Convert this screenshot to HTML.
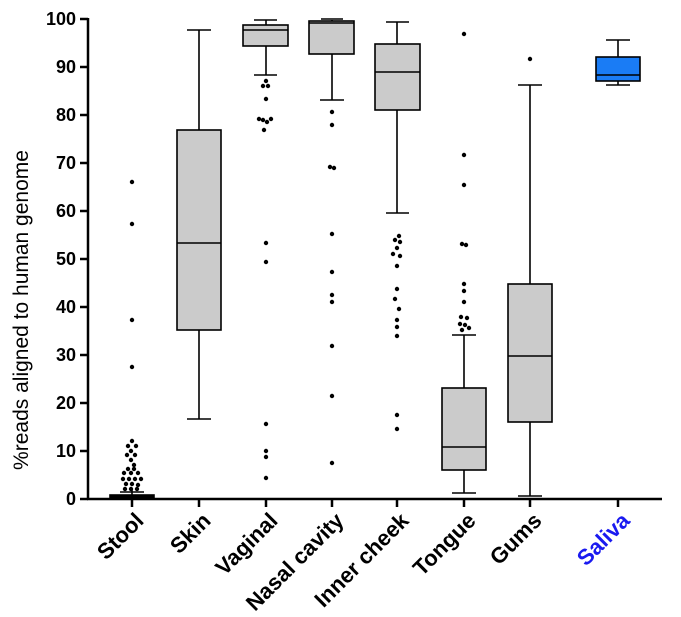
<!DOCTYPE html><html><head><style>body{margin:0;background:#fff}svg{display:block}</style></head><body>
<svg width="681" height="617" xmlns="http://www.w3.org/2000/svg" font-family="Liberation Sans, sans-serif">
<g stroke="#000" stroke-width="2.5" fill="none">
<line x1="88" y1="18" x2="88" y2="500"/><line x1="87" y1="499" x2="662" y2="499"/>
</g>
<g stroke="#000" stroke-width="2.5">
<line x1="80" y1="19" x2="88" y2="19"/><line x1="80" y1="67" x2="88" y2="67"/><line x1="80" y1="115" x2="88" y2="115"/><line x1="80" y1="163" x2="88" y2="163"/><line x1="80" y1="211" x2="88" y2="211"/><line x1="80" y1="259" x2="88" y2="259"/><line x1="80" y1="307" x2="88" y2="307"/><line x1="80" y1="355" x2="88" y2="355"/><line x1="80" y1="403" x2="88" y2="403"/><line x1="80" y1="451" x2="88" y2="451"/><line x1="80" y1="499" x2="88" y2="499"/>
<line x1="132" y1="499" x2="132" y2="507"/><line x1="199" y1="499" x2="199" y2="507"/><line x1="266" y1="499" x2="266" y2="507"/><line x1="332" y1="499" x2="332" y2="507"/><line x1="397" y1="499" x2="397" y2="507"/><line x1="464" y1="499" x2="464" y2="507"/><line x1="530" y1="499" x2="530" y2="507"/><line x1="618" y1="499" x2="618" y2="507"/>
</g>
<g font-size="18" font-weight="bold" text-anchor="end">
<text x="76" y="25">100</text><text x="76" y="73">90</text><text x="76" y="121">80</text><text x="76" y="169">70</text><text x="76" y="217">60</text><text x="76" y="265">50</text><text x="76" y="313">40</text><text x="76" y="361">30</text><text x="76" y="409">20</text><text x="76" y="457">10</text><text x="76" y="505">0</text>
</g>
<text transform="translate(28,310) rotate(-90)" font-size="21" text-anchor="middle">%reads aligned to human genome</text>
<g stroke="#000" stroke-width="1.6" fill="#cbcbcb">
<line x1="132" y1="490" x2="132" y2="499"/><line x1="120" y1="492" x2="144" y2="492"/>
<rect x="110" y="495" width="44" height="4" fill="#000"/>
<line x1="199" y1="30" x2="199" y2="419"/><line x1="187" y1="30" x2="211" y2="30"/><line x1="187" y1="419" x2="211" y2="419"/>
<rect x="177" y="130" width="44" height="200"/><line x1="177" y1="243" x2="221" y2="243"/>
<line x1="266" y1="20" x2="266" y2="75"/><line x1="254" y1="20" x2="277" y2="20"/><line x1="254" y1="75" x2="277" y2="75"/>
<rect x="243" y="25" width="45" height="21"/><line x1="243" y1="30" x2="288" y2="30"/>
<line x1="332" y1="20" x2="332" y2="100"/><line x1="321" y1="19" x2="343" y2="19"/><line x1="320" y1="100" x2="344" y2="100"/>
<rect x="309" y="21" width="45" height="33"/><line x1="309" y1="23" x2="354" y2="23"/>
<line x1="397" y1="22" x2="397" y2="213"/><line x1="386" y1="22" x2="409" y2="22"/><line x1="386" y1="213" x2="409" y2="213"/>
<rect x="375" y="44" width="45" height="66"/><line x1="375" y1="72" x2="420" y2="72"/>
<line x1="464" y1="335" x2="464" y2="493"/><line x1="452" y1="335" x2="476" y2="335"/><line x1="452" y1="493" x2="476" y2="493"/>
<rect x="442" y="388" width="44" height="82"/><line x1="442" y1="447" x2="486" y2="447"/>
<line x1="530" y1="85" x2="530" y2="496"/><line x1="518" y1="85" x2="542" y2="85"/><line x1="518" y1="496" x2="542" y2="496"/>
<rect x="508" y="284" width="44" height="138"/><line x1="508" y1="356" x2="552" y2="356"/>
<line x1="618" y1="40" x2="618" y2="85"/><line x1="606" y1="40" x2="630" y2="40"/><line x1="606" y1="85" x2="630" y2="85"/>
<rect x="596" y="57" width="44" height="24" fill="#1a7cf5"/><line x1="596" y1="75" x2="640" y2="75"/>
</g>
<g fill="#000">
<circle cx="132" cy="182" r="2.2"/><circle cx="132" cy="224" r="2.2"/><circle cx="132" cy="320" r="2.2"/><circle cx="132" cy="367" r="2.2"/>
<circle cx="132" cy="441" r="2.2"/><circle cx="128" cy="446" r="2.2"/><circle cx="136" cy="446" r="2.2"/><circle cx="131" cy="451" r="2.2"/>
<circle cx="127" cy="455" r="2.2"/><circle cx="135" cy="455" r="2.2"/><circle cx="131" cy="460" r="2.2"/><circle cx="134" cy="465" r="2.2"/>
<circle cx="128" cy="469" r="2.2"/><circle cx="134" cy="469" r="2.2"/><circle cx="124" cy="473" r="2.2"/><circle cx="131" cy="473" r="2.2"/><circle cx="138" cy="473" r="2.2"/>
<circle cx="123" cy="479" r="2.2"/><circle cx="129" cy="479" r="2.2"/><circle cx="135" cy="479" r="2.2"/><circle cx="141" cy="479" r="2.2"/>
<circle cx="126" cy="484" r="2.2"/><circle cx="132" cy="484" r="2.2"/><circle cx="138" cy="485" r="2.2"/>
<circle cx="125" cy="489" r="2.2"/><circle cx="131" cy="489" r="2.2"/><circle cx="137" cy="489" r="2.2"/>
<circle cx="266" cy="81" r="2.2"/><circle cx="263" cy="86" r="2.2"/><circle cx="268" cy="86" r="2.2"/><circle cx="266" cy="99" r="2.2"/>
<circle cx="259" cy="119" r="2.2"/><circle cx="263" cy="120" r="2.2"/><circle cx="267" cy="122" r="2.2"/><circle cx="271" cy="119" r="2.2"/><circle cx="264" cy="130" r="2.2"/>
<circle cx="266" cy="243" r="2.2"/><circle cx="266" cy="262" r="2.2"/><circle cx="266" cy="424" r="2.2"/><circle cx="266" cy="451" r="2.2"/><circle cx="266" cy="457" r="2.2"/><circle cx="266" cy="478" r="2.2"/>
<circle cx="332" cy="112" r="2.2"/><circle cx="332" cy="125" r="2.2"/><circle cx="330" cy="167" r="2.2"/><circle cx="334" cy="168" r="2.2"/><circle cx="332" cy="234" r="2.2"/><circle cx="332" cy="272" r="2.2"/><circle cx="332" cy="295" r="2.2"/><circle cx="332" cy="302" r="2.2"/><circle cx="332" cy="346" r="2.2"/><circle cx="332" cy="396" r="2.2"/><circle cx="332" cy="463" r="2.2"/>
<circle cx="399" cy="236" r="2.2"/><circle cx="395" cy="240" r="2.2"/><circle cx="400" cy="242" r="2.2"/><circle cx="397" cy="248" r="2.2"/><circle cx="393" cy="254" r="2.2"/><circle cx="400" cy="256" r="2.2"/><circle cx="397" cy="266" r="2.2"/><circle cx="397" cy="289" r="2.2"/><circle cx="395" cy="299" r="2.2"/><circle cx="399" cy="309" r="2.2"/><circle cx="397" cy="320" r="2.2"/><circle cx="397" cy="327" r="2.2"/><circle cx="397" cy="336" r="2.2"/><circle cx="397" cy="415" r="2.2"/><circle cx="397" cy="429" r="2.2"/>
<circle cx="464" cy="34" r="2.2"/><circle cx="464" cy="155" r="2.2"/><circle cx="464" cy="185" r="2.2"/><circle cx="462" cy="244" r="2.2"/><circle cx="466" cy="245" r="2.2"/><circle cx="464" cy="284" r="2.2"/><circle cx="464" cy="291" r="2.2"/><circle cx="464" cy="302" r="2.2"/><circle cx="461" cy="317" r="2.2"/><circle cx="467" cy="318" r="2.2"/><circle cx="460" cy="324" r="2.2"/><circle cx="465" cy="325" r="2.2"/><circle cx="469" cy="328" r="2.2"/><circle cx="462" cy="330" r="2.2"/>
<circle cx="530" cy="59" r="2.2"/>
</g>
<g font-size="22" font-weight="bold" text-anchor="end">
<text transform="translate(145,522) rotate(-45)">Stool</text>
<text transform="translate(212,522) rotate(-45)">Skin</text>
<text transform="translate(279,522) rotate(-45)">Vaginal</text>
<text transform="translate(345,522) rotate(-45)">Nasal cavity</text>
<text transform="translate(410,522) rotate(-45)">Inner cheek</text>
<text transform="translate(477,522) rotate(-45)">Tongue</text>
<text transform="translate(543,522) rotate(-45)">Gums</text>
<text transform="translate(631,522) rotate(-45)" fill="#1a1af0">Saliva</text>
</g>
</svg>
</body></html>
